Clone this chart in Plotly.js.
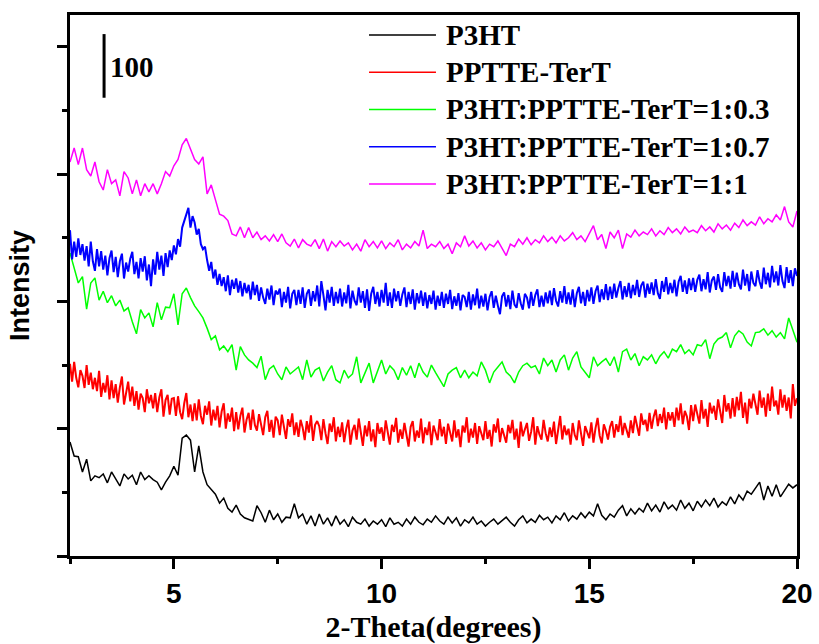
<!DOCTYPE html>
<html>
<head>
<meta charset="utf-8">
<script src="https://cdn.plot.ly/plotly-3.0.1.min.js"></script>
<style>html,body{margin:0;padding:0;background:#fff;}</style>
</head>
<body>
<div id="chart" style="width:819px;height:644px;"></div>
<script>
// ---- data (2-Theta in degrees, intensity in counts) ----
const seriesNames = ['P3HT', 'PPTTE-TerT', 'P3HT:PPTTE-TerT=1:0.3', 'P3HT:PPTTE-TerT=1:0.7', 'P3HT:PPTTE-TerT=1:1'];
const seriesColors = ['#000000', '#ff0000', '#00ff00', '#0000ff', '#ff00ff'];
const xStart = 2.5;
const xStepCoarse = 0.1;   // P3HT, 1:0.3, 1:1
const xStepFine = 0.05;    // PPTTE-TerT, 1:0.7

const p3htY = [
179,157,156,132,152,118,126,123,129,115,
132,121,110,129,121,127,112,132,120,126,
120,116,104,116,126,141,127,185,190,182,
132,173,132,112,104,97,83,91,75,69,
80,66,60,57,55,79,68,53,72,57,
66,53,61,60,82,60,66,50,63,47,
66,50,60,47,63,50,57,46,61,53,
50,58,47,55,50,57,46,60,50,53,
47,58,50,61,53,49,58,53,63,55,
50,61,52,60,47,57,52,61,50,55,
47,53,58,50,55,61,53,47,57,63,
52,58,53,64,57,61,52,63,57,68,
55,63,58,68,60,69,63,82,64,57,
66,61,72,79,63,74,66,75,69,83,
71,80,69,85,74,80,72,88,75,83,
71,86,77,88,79,91,77,85,80,93,
82,96,88,102,97,107,116,88,110,94,
112,93,104,113,107,112];

const ppttY = [
302,274,305,280,265,292,283,264,300,269,
288,262,280,259,291,250,272,257,284,246,
276,248,270,241,265,282,238,257,274,243,
266,236,259,230,255,248,226,262,240,253,
232,256,226,249,262,219,245,253,222,247,
248,220,251,226,215,240,256,218,238,212,
240,213,246,220,207,236,222,243,205,230,
213,236,202,227,240,200,224,211,233,196,
226,199,220,233,194,214,225,198,230,206,
197,223,208,190,218,228,195,214,186,219,
213,190,222,201,184,215,203,224,190,210,
187,214,202,182,212,194,221,181,206,212,
204,182,215,193,176,208,195,218,180,203,
187,210,179,200,214,175,197,206,183,216,
194,173,205,188,212,180,199,171,209,192,
202,181,213,190,175,206,195,217,178,199,
184,209,193,172,203,212,180,197,186,216,
177,202,190,211,174,205,194,182,215,188,
203,176,208,192,180,213,186,199,171,205,
194,218,178,200,186,209,176,204,191,182,
212,184,198,172,207,194,216,179,201,188,
178,206,193,214,183,200,170,211,188,199,
209,181,195,218,175,204,191,183,214,193,
180,202,187,211,176,198,220,183,205,190,
200,175,209,190,182,213,195,173,204,193,
185,210,178,201,217,189,177,207,197,183,
203,212,186,207,195,220,190,209,198,186,
213,193,220,203,189,224,206,214,196,225,
200,219,230,204,223,209,233,199,226,213,
226,203,233,213,240,207,228,219,198,237,
212,238,221,208,245,216,231,203,241,224,
236,214,246,224,209,253,227,240,216,248,
219,250,229,258,217,241,208,247,232,255,
241,222,260,233,249,219,255,228,266,235,
244,222,262,233,253,228,249,216,270,236,
248];

const blend03Y = [
476,453,429,439,388,429,437,402,416,398,
409,393,402,385,390,368,349,387,374,382,
360,398,371,391,390,412,363,412,421,406,
393,384,374,358,340,346,324,330,321,332,
292,329,316,308,303,296,314,277,294,299,
286,277,297,286,291,297,277,308,281,292,
296,275,289,299,277,272,292,280,286,313,
272,289,303,272,289,308,286,299,292,277,
296,284,299,280,303,289,281,300,288,277,
266,286,292,296,280,292,280,289,283,305,
292,272,289,297,305,289,283,272,289,299,
303,296,299,286,311,299,308,289,308,316,
292,311,321,297,289,280,313,299,305,310,
299,313,289,321,325,308,318,299,313,308,
316,302,314,321,311,325,321,332,318,324,
316,332,330,340,310,333,341,344,351,327,
346,354,349,336,330,351,352,357,347,354,
344,351,341,374,355,336];

const blend07Y = [
512,466,494,470,499,473,490,464,487,455,
494,463,448,482,455,479,450,472,441,468,
480,446,470,438,463,475,436,461,447,467,
478,443,462,436,468,447,471,433,458,424,
466,442,478,450,472,440,476,454,480,465,
488,474,498,486,516,527,536,547,516,534,
524,505,514,490,482,486,465,448,462,436,
450,426,443,424,438,416,441,410,434,420,
436,414,432,408,429,413,426,403,431,410,
426,401,422,406,396,420,403,425,394,417,
411,420,391,415,398,423,389,412,418,394,
418,396,422,390,412,419,393,416,400,425,
392,432,410,386,418,398,423,393,415,397,
420,392,414,397,426,389,417,401,394,422,
398,416,390,419,385,412,423,396,415,392,
418,398,429,393,414,390,420,400,416,393,
411,422,391,415,396,419,387,413,397,417,
393,414,389,410,396,417,387,409,393,415,
390,412,396,418,388,408,393,413,386,410,
407,391,415,387,411,394,420,389,409,392,
412,386,407,416,390,409,393,380,408,414,
392,410,388,417,395,390,413,397,387,412,
406,389,415,393,410,419,391,409,392,414,
397,417,394,421,401,392,416,398,424,396,
414,395,419,391,413,423,397,415,393,418,
400,422,396,416,425,399,419,403,427,402,
423,404,428,406,421,432,403,424,407,429,
405,426,410,434,407,425,431,406,428,412,
430,410,435,413,404,432,415,438,411,429,
413,434,408,431,440,415,433,412,436,418,
437,415,434,442,416,435,419,446,414,433,
439,418,443,422,415,446,424,440,420,448,
423,445,427,419,450,425,443,416,447,429,
424,449,431,420,453,427,445,422,456,430,
447,425,457,432,421,454,429,449,424,452,
440];

const blend11Y = [
619,641,615,641,607,597,619,588,575,607,
585,591,566,604,594,569,591,566,585,572,
585,569,585,604,597,613,623,646,656,638,
623,616,627,569,583,560,537,534,527,506,
503,517,500,516,500,509,497,503,495,505,
494,506,492,487,498,484,497,490,487,497,
483,498,479,494,486,495,487,492,481,490,
479,497,486,494,484,495,483,492,486,497,
481,490,484,494,487,512,483,490,486,494,
483,490,475,492,486,503,487,495,484,492,
481,490,486,495,483,472,490,486,498,490,
500,489,497,492,503,494,501,492,503,495,
500,508,497,503,494,506,519,497,505,483,
509,500,512,483,506,501,512,503,509,505,
514,503,511,505,516,508,514,506,517,509,
512,508,519,511,517,509,522,514,520,512,
523,516,528,519,525,520,533,522,530,525,
536,528,549,525,517,542];

const xTickVals = [5, 10, 15, 20];
const xTickText = ['5', '10', '15', '20'];
const xMinorVals = [2.5, 7.5, 12.5, 17.5];
const yTickVals = [0, 200, 400, 600, 800];
const yMinorVals = [100, 300, 500, 700];
const scaleBarValue = 100;

// ---- build ----
const seriesY = [p3htY, ppttY, blend03Y, blend07Y, blend11Y];
const seriesStep = [xStepCoarse, xStepFine, xStepCoarse, xStepFine, xStepCoarse];
const seriesWidth = [1.5, 2, 1.5, 2, 1.5];

const traces = seriesY.map((ys, i) => ({
  type: 'scatter', mode: 'lines', name: seriesNames[i],
  x0: xStart, dx: seriesStep[i], y: ys,
  line: {color: seriesColors[i], width: seriesWidth[i]},
  hoverinfo: 'skip'
}));

const serif = '"Liberation Serif", "Times New Roman", Times, serif';
const sans = '"Liberation Sans", Arial, Helvetica, sans-serif';

const shapes = [];
const annotations = [];

// scale bar
shapes.push({type: 'line', xref: 'x', yref: 'y', x0: 3.32, x1: 3.32, y0: 720, y1: 720 + scaleBarValue,
  line: {color: 'black', width: 3}});
annotations.push({xref: 'x', yref: 'y', x: 3.42, y: 768, xanchor: 'left', yanchor: 'middle',
  text: String(scaleBarValue), showarrow: false,
  font: {family: serif, size: 29, color: 'black', weight: 'bold'}});

// legend (manual, long line samples as in the original)
const legX0 = 0.4113, legX1 = 0.5034, legTextX = 0.5144;
const legTop = 0.963, legStep = 0.0688;
seriesNames.forEach((nm, i) => {
  const yy = legTop - i * legStep;
  shapes.push({type: 'line', xref: 'paper', yref: 'paper', x0: legX0, x1: legX1, y0: yy, y1: yy,
    line: {color: seriesColors[i], width: 1.5}});
  annotations.push({xref: 'paper', yref: 'paper', x: legTextX, y: yy, xanchor: 'left', yanchor: 'middle',
    text: nm, showarrow: false,
    font: {family: serif, size: 29, color: 'black', weight: 'bold'}});
});

const layout = {
  width: 819, height: 644,
  margin: {l: 70, r: 22, t: 15, b: 88},
  paper_bgcolor: 'white', plot_bgcolor: 'white',
  showlegend: false,
  xaxis: {
    range: [2.5, 20], tickmode: 'array', tickvals: xTickVals, ticktext: xTickText,
    ticks: 'outside', ticklen: 10, tickwidth: 3, tickcolor: 'black',
    showline: true, linewidth: 3, linecolor: 'black', mirror: true,
    showgrid: false, zeroline: false,
    tickfont: {family: sans, size: 28, color: 'black', weight: 'bold'},
    minor: {tickmode: 'array', tickvals: xMinorVals, ticks: 'outside', ticklen: 5, tickwidth: 3, tickcolor: 'black', showgrid: false},
    title: {text: '2-Theta(degrees)', standoff: 14,
      font: {family: serif, size: 30, color: 'black', weight: 'bold'}}
  },
  yaxis: {
    range: [0, 850], tickmode: 'array', tickvals: yTickVals, showticklabels: false,
    ticks: 'outside', ticklen: 10, tickwidth: 3, tickcolor: 'black',
    showline: true, linewidth: 3, linecolor: 'black', mirror: true,
    showgrid: false, zeroline: false,
    minor: {tickmode: 'array', tickvals: yMinorVals, ticks: 'outside', ticklen: 5, tickwidth: 3, tickcolor: 'black', showgrid: false},
    title: {text: 'Intensity', standoff: 20,
      font: {family: sans, size: 27, color: 'black', weight: 'bold'}}
  },
  shapes: shapes,
  annotations: annotations
};

Plotly.newPlot('chart', traces, layout, {staticPlot: true, displayModeBar: false});
</script>
</body>
</html>
